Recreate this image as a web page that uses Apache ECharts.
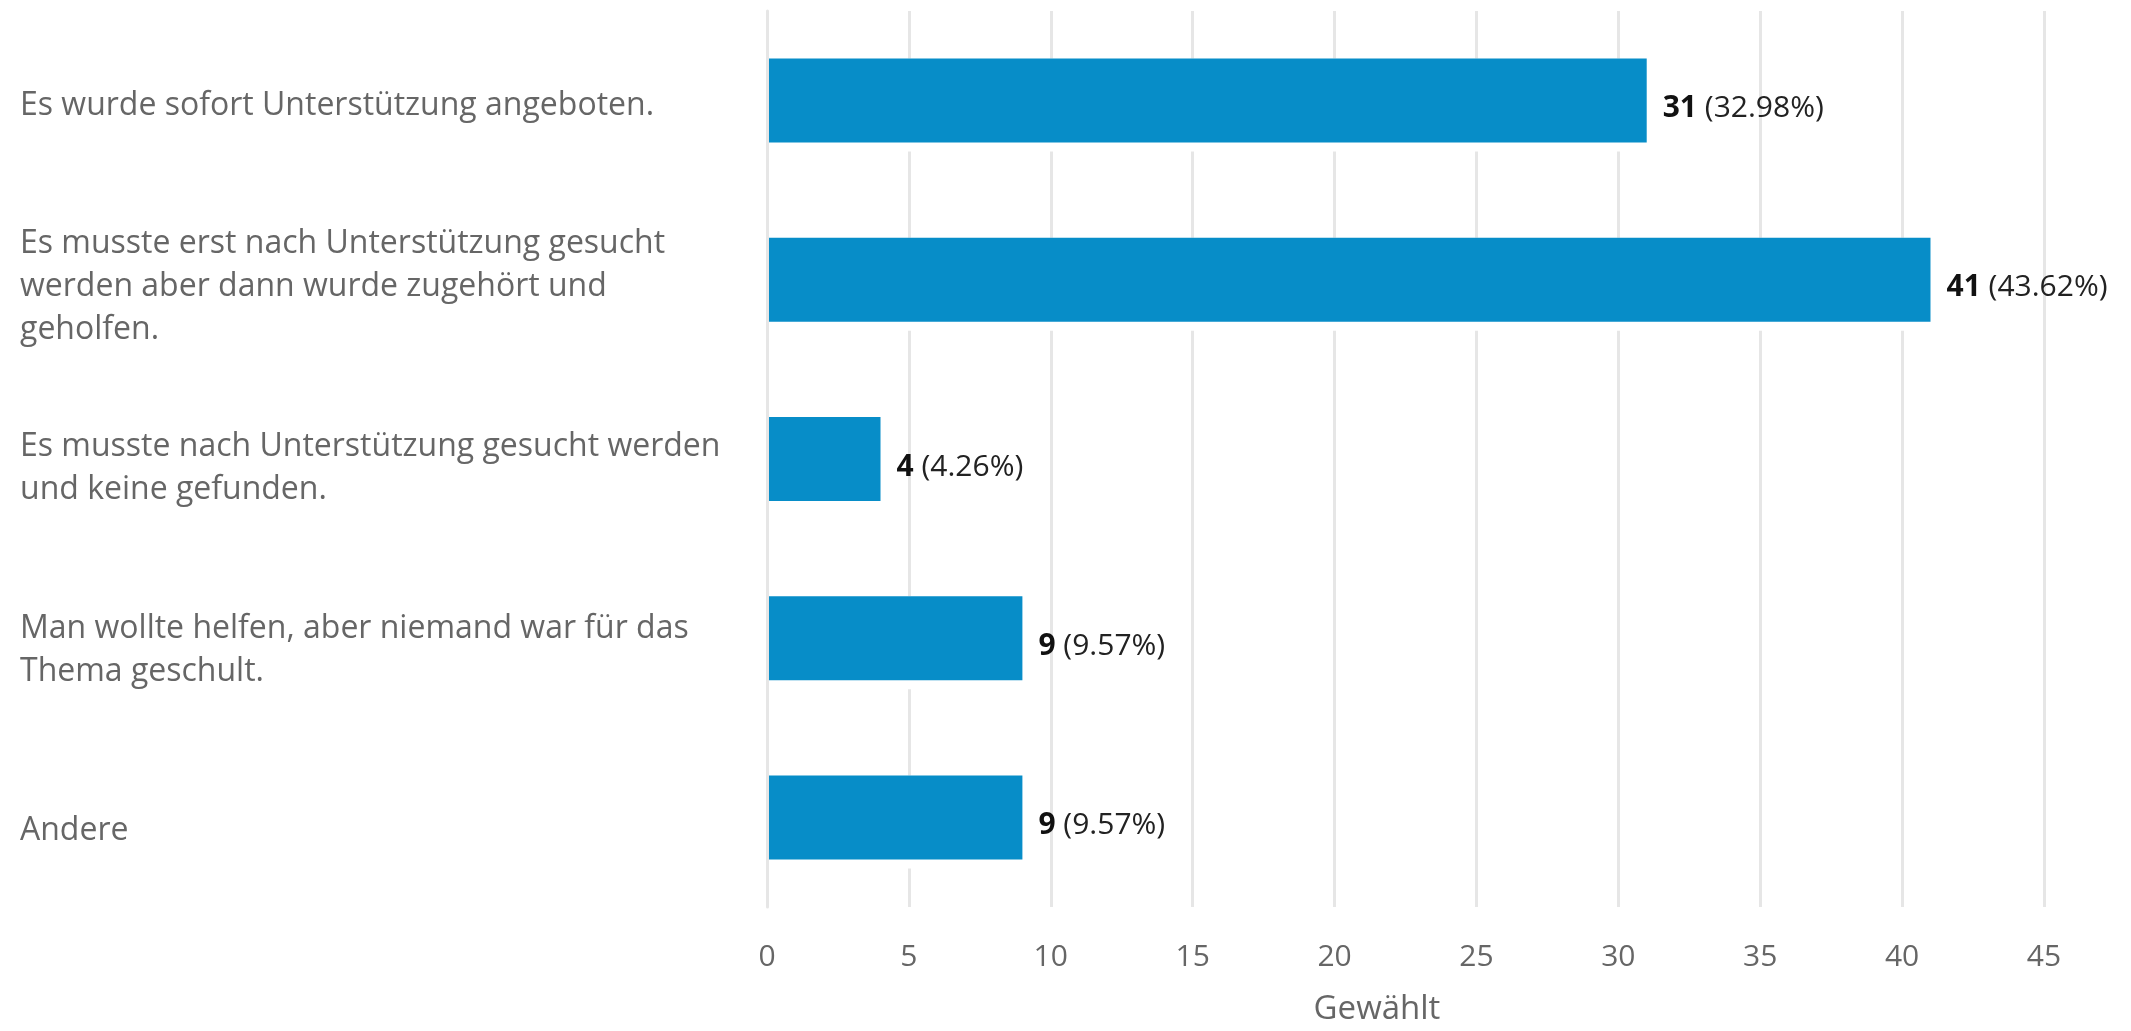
<!DOCTYPE html>
<html>
<head>
<meta charset="utf-8">
<script src="https://cdn.jsdelivr.net/npm/echarts@6/dist/echarts.min.js"></script>
<style>
html,body{margin:0;padding:0;background:#fff;}
#chart{width:2131px;height:1031px;}
</style>
</head>
<body>
<div id="chart"></div>
<script>
const categories = [
  "Es wurde sofort Unterstützung angeboten.",
  "Es musste erst nach Unterstützung gesucht\nwerden aber dann wurde zugehört und\ngeholfen.",
  "Es musste nach Unterstützung gesucht werden\nund keine gefunden.",
  "Man wollte helfen, aber niemand war für das\nThema geschult.",
  "Andere"
];
const counts = [31, 41, 4, 9, 9];
const percents = ["32.98%", "43.62%", "4.26%", "9.57%", "9.57%"];
const xTicks = { min: 0, max: 45, interval: 5 };
const axisName = "Gewählt";

const FONT = "'Open Sans', 'Noto Sans', sans-serif";
const chart = echarts.init(document.getElementById('chart'), null, {renderer: 'canvas'});
chart.setOption({
  backgroundColor: '#ffffff',
  animation: false,
  grid: [
    { left: 767, right: 87, top: 11, bottom: 113, containLabel: false },
    { left: 767, right: 87, top: 15, bottom: 109, containLabel: false }
  ],
  xAxis: [{
    type: 'value',
    gridIndex: 0,
    min: xTicks.min, max: xTicks.max, interval: xTicks.interval,
    axisLine: { show: false },
    axisTick: { show: false },
    splitLine: { show: true, lineStyle: { color: '#e6e6e6', width: 3 } },
    axisLabel: { color: '#666666', fontFamily: FONT, fontSize: 30, margin: 35 },
    name: axisName,
    nameLocation: 'middle',
    nameGap: 86,
    nameTextStyle: { color: '#666666', fontFamily: FONT, fontSize: 33, padding: [0, 57, 0, 0] }
  }, {
    type: 'value',
    gridIndex: 1,
    min: xTicks.min, max: xTicks.max, interval: xTicks.interval,
    show: false
  }],
  yAxis: [{
    type: 'category',
    gridIndex: 0,
    data: categories,
    inverse: true,
    z: 5,
    axisLine: { show: true, lineStyle: { color: '#e6e6e6', width: 3 } },
    axisTick: { show: false },
    axisLabel: { show: false }
  }, {
    type: 'category',
    gridIndex: 1,
    data: categories,
    inverse: true,
    axisLine: { show: false },
    axisTick: { show: false },
    splitLine: { show: false },
    axisLabel: {
      color: '#666666', fontFamily: FONT, fontSize: 32, lineHeight: 43,
      align: 'left', margin: 747
    }
  }],
  series: [{
    type: 'bar',
    xAxisIndex: 0, yAxisIndex: 0,
    data: counts,
    barWidth: 93,
    silent: true,
    itemStyle: { color: '#ffffff' },
    z: 1
  }, {
    type: 'bar',
    xAxisIndex: 0, yAxisIndex: 0,
    data: counts,
    barWidth: 84,
    barGap: '-100%',
    z: 2,
    itemStyle: { color: '#078dc8' },
    label: {
      show: true,
      position: 'right',
      distance: 16,
      offset: [0, 8],
      formatter: function (p) {
        return '{b|' + counts[p.dataIndex] + '}{n| (' + percents[p.dataIndex] + ')}';
      },
      rich: {
        b: { fontFamily: FONT, fontSize: 30, fontWeight: 'bold', color: '#111111' },
        n: { fontFamily: FONT, fontSize: 30, color: '#222222' }
      }
    }
  }]
});
</script>
</body>
</html>
